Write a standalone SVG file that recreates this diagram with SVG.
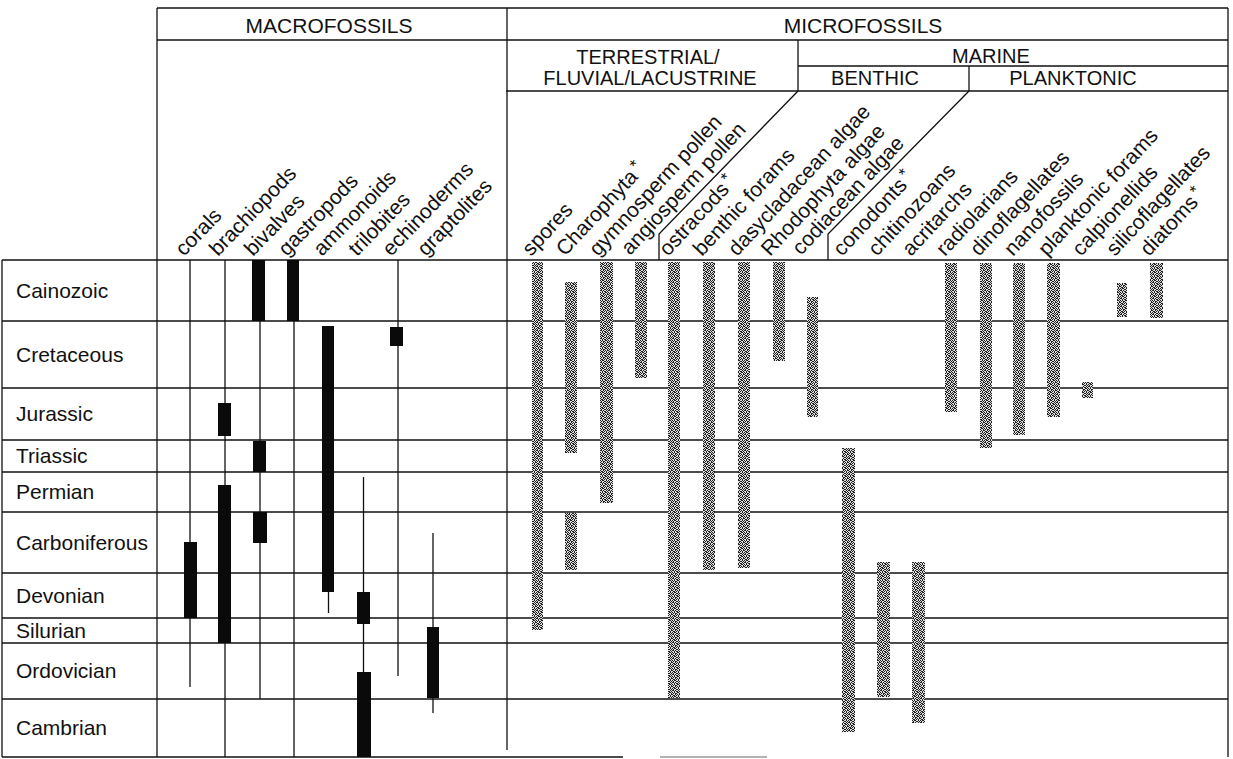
<svg xmlns="http://www.w3.org/2000/svg" width="1233" height="759" viewBox="0 0 1233 759">
<style>
text{font-family:"Liberation Sans",Arial,sans-serif;font-size:21px;fill:#111}
.c{text-anchor:middle}
.h2{font-size:20px}
.g line,.g polyline{stroke:#111;stroke-width:1.3;fill:none}
.r line{stroke:#111;stroke-width:1.3}
.b{fill:#0a0a0a}
.s{fill:url(#stip)}
.a{font-size:17px}
</style>
<defs>
<pattern id="stip" width="8" height="8" patternUnits="userSpaceOnUse">
<rect width="8" height="8" fill="#dcdcdc"/>
<path fill="#222" d="M0 0h1v1h-1zM2 0h2v1h-2zM6 0h1v1h-1zM1 1h1v1h-1zM4 1h2v1h-2zM7 1h1v1h-1zM0 2h2v1h-2zM3 2h1v1h-1zM6 2h1v1h-1zM2 3h1v1h-1zM4 3h2v1h-2zM7 3h1v1h-1zM0 4h1v1h-1zM2 4h1v1h-1zM5 4h2v1h-2zM1 5h1v1h-1zM3 5h2v1h-2zM7 5h1v1h-1zM0 6h1v1h-1zM3 6h1v1h-1zM5 6h1v1h-1zM7 6h1v1h-1zM1 7h2v1h-2zM4 7h1v1h-1zM6 7h1v1h-1z"/>
</pattern>
</defs>
<rect width="1233" height="759" fill="#fff"/>
<g id="grid" class="g">
<line x1="157" y1="8" x2="1228" y2="8"/>
<line x1="157" y1="40" x2="1228" y2="40"/>
<line x1="798" y1="66" x2="1228" y2="66"/>
<line x1="506" y1="91" x2="1228" y2="91"/>
<line x1="157" y1="8" x2="157" y2="757"/>
<line x1="507" y1="8" x2="507" y2="750"/>
<line x1="1228" y1="8" x2="1228" y2="757"/>
<line x1="2" y1="260" x2="2" y2="757"/>
<line x1="798" y1="40" x2="798" y2="91"/>
<line x1="969" y1="66" x2="969" y2="91"/>
<polyline points="798,91 659,234 659,260"/>
<polyline points="969,91 828,234 828,260"/>
<line x1="2" y1="260" x2="1228" y2="260"/>
<line x1="2" y1="321" x2="1228" y2="321"/>
<line x1="2" y1="388" x2="1228" y2="388"/>
<line x1="2" y1="440" x2="1228" y2="440"/>
<line x1="2" y1="472" x2="1228" y2="472"/>
<line x1="2" y1="512" x2="1228" y2="512"/>
<line x1="2" y1="573" x2="1228" y2="573"/>
<line x1="2" y1="618" x2="1228" y2="618"/>
<line x1="2" y1="643" x2="1228" y2="643"/>
<line x1="2" y1="699" x2="1228" y2="699"/>
<line x1="2" y1="757" x2="623" y2="757"/>
<line x1="660" y1="757" x2="767" y2="757" style="stroke:#999"/>
</g>
<g id="headers">
<text class="c" x="329" y="33">MACROFOSSILS</text>
<text class="c" x="863" y="33">MICROFOSSILS</text>
<text class="c h2" x="648" y="64">TERRESTRIAL/</text>
<text class="c h2" x="650" y="85">FLUVIAL/LACUSTRINE</text>
<text class="c h2" x="991" y="63">MARINE</text>
<text class="c h2" x="875" y="85">BENTHIC</text>
<text class="c h2" x="1073" y="85">PLANKTONIC</text>
</g>
<g id="periods">
<text x="16" y="298">Cainozoic</text>
<text x="16" y="362">Cretaceous</text>
<text x="16" y="421">Jurassic</text>
<text x="16" y="463">Triassic</text>
<text x="16" y="499">Permian</text>
<text x="16" y="550">Carboniferous</text>
<text x="16" y="603">Devonian</text>
<text x="16" y="638">Silurian</text>
<text x="16" y="678">Ordovician</text>
<text x="16" y="735">Cambrian</text>
</g>
<g id="macro-labels">
<text transform="translate(184,257) rotate(-46)">corals</text>
<text transform="translate(218,257) rotate(-46)">brachiopods</text>
<text transform="translate(253,257) rotate(-46)">bivalves</text>
<text transform="translate(287,257) rotate(-46)">gastropods</text>
<text transform="translate(322,257) rotate(-46)">ammonoids</text>
<text transform="translate(357,257) rotate(-46)">trilobites</text>
<text transform="translate(391,257) rotate(-46)">echinoderms</text>
<text transform="translate(426,257) rotate(-46)">graptolites</text>
</g>
<g id="micro-labels">
<text transform="translate(531,257) rotate(-47)">spores</text>
<text transform="translate(565,257) rotate(-47)">Charophyta<tspan class="a" dx="3" dy="-6">*</tspan></text>
<text transform="translate(598,257) rotate(-47)">gymnosperm pollen</text>
<text transform="translate(630,256) rotate(-47)">angiosperm pollen</text>
<text transform="translate(668,257) rotate(-47)">ostracods<tspan class="a" dx="3" dy="-6">*</tspan></text>
<text transform="translate(702,257) rotate(-47)">benthic forams</text>
<text transform="translate(737,257) rotate(-47)">dasycladacean algae</text>
<text transform="translate(770,257) rotate(-47)">Rhodophyta algae</text>
<text transform="translate(801,256) rotate(-47)">codiacean algae</text>
<text transform="translate(842,257) rotate(-47)">conodonts<tspan class="a" dx="3" dy="-6">*</tspan></text>
<text transform="translate(877,257) rotate(-47)">chitinozoans</text>
<text transform="translate(911,257) rotate(-47)">acritarchs</text>
<text transform="translate(945,257) rotate(-47)">radiolarians</text>
<text transform="translate(979,257) rotate(-47)">dinoflagellates</text>
<text transform="translate(1013,257) rotate(-47)">nanofossils</text>
<text transform="translate(1047,257) rotate(-47)">planktonic forams</text>
<text transform="translate(1081,257) rotate(-47)">calpionellids</text>
<text transform="translate(1115,257) rotate(-47)">silicoflagellates</text>
<text transform="translate(1149,257) rotate(-47)">diatoms<tspan class="a" dx="3" dy="-6">*</tspan></text>
</g>
<g id="macro-ranges" class="r">
<line x1="190" y1="260" x2="190" y2="687"/>
<line x1="225" y1="260" x2="225" y2="757"/>
<line x1="260" y1="321" x2="260" y2="699"/>
<line x1="294" y1="321" x2="294" y2="757"/>
<line x1="328.5" y1="592" x2="328.5" y2="613"/>
<line x1="363.5" y1="477" x2="363.5" y2="757"/>
<line x1="398" y1="260" x2="398" y2="676"/>
<line x1="433" y1="533" x2="433" y2="713"/>
<rect class="b" x="252" y="260" width="13" height="61"/>
<rect class="b" x="287" y="260" width="12" height="61"/>
<rect class="b" x="322" y="326" width="12" height="266"/>
<rect class="b" x="390" y="327" width="13" height="19"/>
<rect class="b" x="218" y="403" width="13" height="33"/>
<rect class="b" x="253" y="441" width="13" height="31"/>
<rect class="b" x="218" y="485" width="13" height="158"/>
<rect class="b" x="253" y="512" width="14" height="31"/>
<rect class="b" x="184" y="542" width="13" height="76"/>
<rect class="b" x="357" y="592" width="13" height="32"/>
<rect class="b" x="357" y="672" width="14" height="85"/>
<rect class="b" x="427" y="627" width="12" height="71"/>
</g>
<g id="micro-ranges">
<rect class="s" x="532" y="262" width="11" height="368"/>
<rect class="s" x="565" y="282" width="12" height="171"/>
<rect class="s" x="565" y="513" width="12" height="57"/>
<rect class="s" x="600" y="262" width="13" height="241"/>
<rect class="s" x="635" y="262" width="12" height="116"/>
<rect class="s" x="668" y="262" width="12" height="436"/>
<rect class="s" x="703" y="262" width="12" height="308"/>
<rect class="s" x="738" y="262" width="12" height="306"/>
<rect class="s" x="773" y="262" width="12" height="99"/>
<rect class="s" x="807" y="297" width="11" height="120"/>
<rect class="s" x="842" y="448" width="13" height="284"/>
<rect class="s" x="877" y="562" width="13" height="135"/>
<rect class="s" x="912" y="562" width="13" height="161"/>
<rect class="s" x="945" y="263" width="12" height="149"/>
<rect class="s" x="980" y="263" width="12" height="185"/>
<rect class="s" x="1013" y="263" width="12" height="172"/>
<rect class="s" x="1047" y="263" width="13" height="154"/>
<rect class="s" x="1082" y="382" width="11" height="16"/>
<rect class="s" x="1117" y="283" width="10" height="34"/>
<rect class="s" x="1150" y="263" width="13" height="55"/>
</g>
</svg>
